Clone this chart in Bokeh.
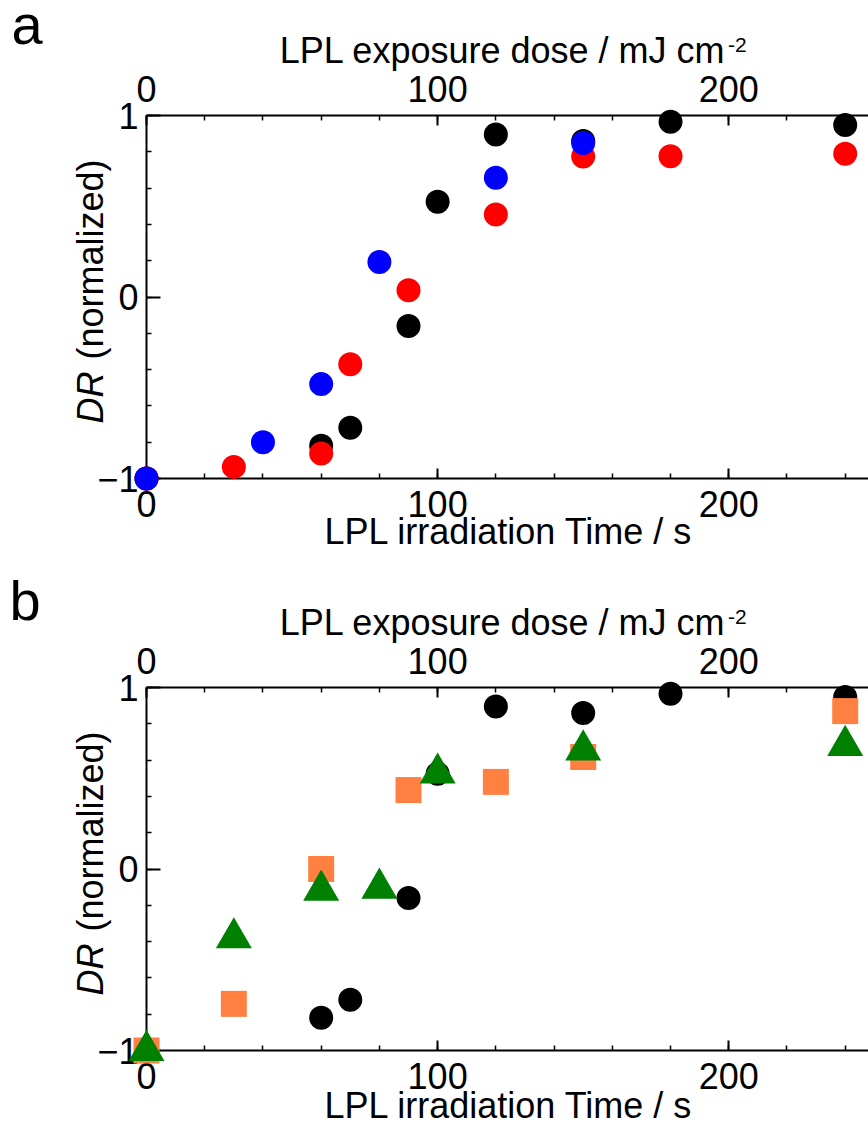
import math
from bokeh.plotting import figure
from bokeh.models import LinearAxis, Range1d, SingleIntervalTicker
from bokeh.core.properties import value
from bokeh.layouts import column
from bokeh.embed import file_html
from bokeh.resources import INLINE

# ---- data ----
# panel a
time_black = [0, 60, 70, 90, 100, 120, 150, 180, 240]
dr_black = [-1.0, -0.82, -0.72, -0.16, 0.525, 0.895, 0.86, 0.965, 0.948]

time_red = [0, 30, 60, 70, 90, 120, 150, 180, 240]
dr_red = [-1.0, -0.936, -0.862, -0.37, 0.037, 0.455, 0.774, 0.776, 0.789]

time_blue = [0, 40, 60, 80, 120, 150]
dr_blue = [-1.0, -0.80, -0.48, 0.193, 0.657, 0.848]

# panel b
time_orange = [0, 30, 60, 90, 120, 150, 240]
dr_orange = [-1.0, -0.743, 0.0, 0.435, 0.48, 0.617, 0.87]

time_green = [0, 30, 60, 80, 100, 150, 240]
dr_green = [-1.0, -0.38, -0.117, -0.106, 0.528, 0.655, 0.68]

x_title = "LPL irradiation Time / s"
x2_title = "LPL exposure dose / mJ cm"
x2_title_sup = "-2"
y_title_italic = "DR"
y_title_rest = "(normalized)"

FONT = "Liberation Sans"


def style_axis(ax, tick_in, standoff):
    ax.axis_line_width = 2
    ax.axis_line_color = "black"
    ax.major_tick_line_width = 2
    ax.minor_tick_line_width = 1.5
    ax.major_tick_in = tick_in
    ax.major_tick_out = 0
    ax.minor_tick_in = 5
    ax.minor_tick_out = 0
    ax.major_label_standoff = standoff
    ax.major_label_text_font = FONT
    ax.major_label_text_font_size = "36px"
    ax.major_label_text_color = "black"


def add_text(p, x, y, text, align="left", size="36px", style="normal", angle=0.0):
    p.text(x=[x], y=[y], text=[text], angle=angle,
           text_align=value(align), text_baseline=value("alphabetic"),
           text_font=value(FONT), text_font_size=value(size),
           text_font_style=value(style), text_color="black",
           level="overlay")


def make_panel(height, top_border, bottom_border, letter, letter_x, letter_y, xt_y):
    p = figure(width=868, height=height,
               x_range=Range1d(0, 248), y_range=Range1d(-1, 1),
               x_axis_type=None, y_axis_type=None,
               output_backend="svg", toolbar_location=None,
               min_border_left=146, min_border_right=0,
               min_border_top=top_border, min_border_bottom=bottom_border)
    p.outline_line_color = None
    p.background_fill_color = "white"
    p.border_fill_color = "white"

    bottom = LinearAxis(ticker=SingleIntervalTicker(interval=100, num_minor_ticks=5))
    top = LinearAxis(ticker=SingleIntervalTicker(interval=100, num_minor_ticks=5))
    left = LinearAxis(ticker=SingleIntervalTicker(interval=1, num_minor_ticks=5))
    style_axis(bottom, 10, 12)
    style_axis(top, 10, 14)
    style_axis(left, 14, 8)
    left.major_label_overrides = {-1: "\u22121", 0: "0", 1: "1"}
    p.add_layout(bottom, "below")
    p.add_layout(top, "above")
    p.add_layout(left, "left")

    # axis titles and panel letter
    add_text(p, 124.5, xt_y, x_title, align="center")
    add_text(p, 199.0, 1.358, x2_title, align="right")
    add_text(p, 199.7, 1.389, x2_title_sup, align="left", size="21px")
    add_text(p, -19.25, -0.697, y_title_italic, align="left", style="italic",
             angle=math.pi / 2)
    add_text(p, -19.25, 0.758, y_title_rest, align="right", angle=math.pi / 2)
    add_text(p, letter_x, letter_y, letter, align="left", size="56px")
    return p


pa = make_panel(570, 115, 92, "a", -46.4, 1.503, -1.292)
pa.scatter(time_black, dr_black, marker="circle", size=24,
           fill_color="black", line_color=None, level="overlay")
pa.scatter(time_red, dr_red, marker="circle", size=24,
           fill_color="#FF0000", line_color=None, level="overlay")
pa.scatter(time_blue, dr_blue, marker="circle", size=24,
           fill_color="#0000FF", line_color=None, level="overlay")

pb = make_panel(559, 117, 79, "b", -47.1, 1.479, -1.303)
pb.scatter(time_black, dr_black, marker="circle", size=24,
           fill_color="black", line_color=None, level="overlay")
pb.scatter(time_orange, dr_orange, marker="square", size=26,
           fill_color="#FF8040", line_color=None, level="overlay")
pb.scatter(time_green, dr_green, marker="triangle", size=36,
           fill_color="#008000", line_color=None, level="overlay")

layout = column(pa, pb)
open("out.html", "w").write(file_html(layout, INLINE))
